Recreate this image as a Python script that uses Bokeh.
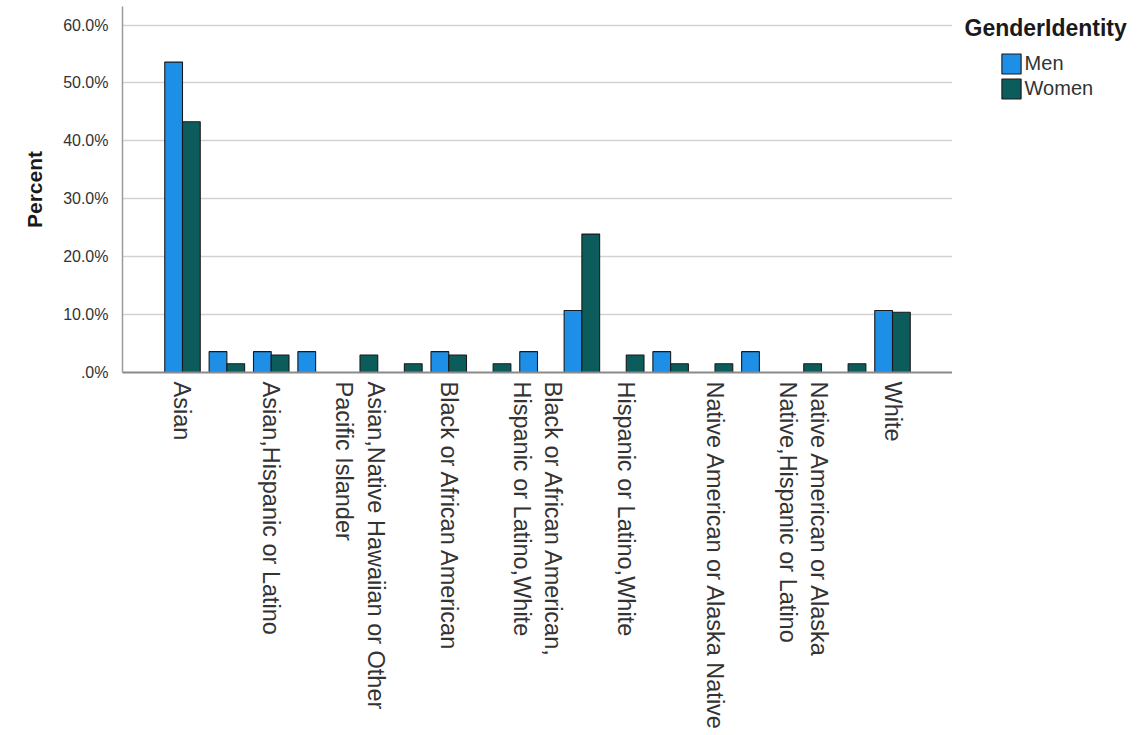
import math
from bokeh.plotting import figure
from bokeh.layouts import row
from bokeh.models import ColumnDataSource, FixedTicker, Legend, LegendItem, Label
from bokeh.transform import dodge
from bokeh.embed import file_html
from bokeh.resources import INLINE

# ---- data ----
tick_labels = [
    "Asian",
    "Asian,Hispanic or Latino",
    "Asian,Native Hawaiian or Other\nPacific Islander",
    "Black or African American",
    "Black or African American,\nHispanic or Latino,White",
    "Hispanic or Latino,White",
    "Native American or Alaska Native",
    "Native American or Alaska\nNative,Hispanic or Latino",
    "White",
]
men_pct = [53.6, 3.6, 3.6, 3.6, 0.0, 0.0, 3.6, 0.0, 3.6, 10.7, 0.0, 3.6, 0.0, 3.6, 0.0, 0.0, 10.7]
women_pct = [43.3, 1.5, 3.0, 0.0, 3.0, 1.5, 3.0, 1.5, 0.0, 23.9, 3.0, 1.5, 1.5, 0.0, 1.5, 1.5, 10.4]
y_ticks = [0, 10, 20, 30, 40, 50, 60]
y_tick_labels = [".0%", "10.0%", "20.0%", "30.0%", "40.0%", "50.0%", "60.0%"]
series_names = ["Men", "Women"]
legend_title = "GenderIdentity"

MEN_COLOR = "#1E8FE6"
WOMEN_COLOR = "#0B5C5A"
OUTLINE = "#1a1a1a"
FONT = "Liberation Sans"
TOTAL_H = 730

n_groups = len(men_pct)
groups = list(range(n_groups))
label_positions = groups[::2]

source = ColumnDataSource(dict(g=groups, men=men_pct, women=women_pct))

FRAME_H = 366
p = figure(
    title=None,
    frame_width=830, frame_height=FRAME_H,
    x_range=(-1.352, n_groups - 1 + 1.352),
    y_range=(0, 63.2),
    output_backend="svg", toolbar_location=None,
    min_border_left=122, min_border_right=0,
    min_border_top=6, min_border_bottom=TOTAL_H - 6 - FRAME_H,
    background_fill_color="white", border_fill_color="white",
)
p.outline_line_color = None

p.vbar(x=dodge("g", -0.2), top="men", width=0.4, source=source,
       fill_color=MEN_COLOR, line_color=OUTLINE, line_width=1.1)
p.vbar(x=dodge("g", 0.2), top="women", width=0.4, source=source,
       fill_color=WOMEN_COLOR, line_color=OUTLINE, line_width=1.1)

# x axis
xa = p.xaxis[0]
xa.ticker = FixedTicker(ticks=label_positions)
xa.major_label_overrides = {pos: lab for pos, lab in zip(label_positions, tick_labels)}
xa.major_label_orientation = -math.pi / 2
xa.major_label_text_font = FONT
xa.major_label_text_font_size = "23.5px"
xa.major_label_text_color = "#333333"
xa.major_label_standoff = 3
xa.major_tick_line_color = None
xa.minor_tick_line_color = None
xa.axis_line_color = "#8a8a8a"
xa.axis_line_width = 2

# y axis
ya = p.yaxis[0]
ya.ticker = FixedTicker(ticks=y_ticks)
ya.major_label_overrides = {t: lab for t, lab in zip(y_ticks, y_tick_labels)}
ya.major_label_text_font = FONT
ya.major_label_text_font_size = "16px"
ya.major_label_text_color = "#333333"
ya.major_label_standoff = 8
ya.major_tick_line_color = None
ya.minor_tick_line_color = None
ya.axis_line_color = "#9a9a9a"
ya.axis_line_width = 1.5
ya.axis_label = "Percent"
ya.axis_label_text_font = FONT
ya.axis_label_text_font_style = "bold"
ya.axis_label_text_font_size = "21px"
ya.axis_label_text_color = "#1a1a1a"
ya.axis_label_standoff = 14

p.xgrid.grid_line_color = None
p.ygrid.ticker = FixedTicker(ticks=y_ticks)
p.ygrid.grid_line_color = "#d2d2d2"
p.ygrid.grid_line_width = 1.5

# ---- legend panel (separate figure to the right) ----
LEG_W = 184
q = figure(
    title=None, frame_width=LEG_W, frame_height=TOTAL_H,
    x_range=(-200, -199), y_range=(1000, 1001),
    output_backend="svg", toolbar_location=None,
    min_border=0, min_border_left=0, min_border_right=0,
    min_border_top=0, min_border_bottom=0,
    background_fill_color="white", border_fill_color="white",
)
q.axis.visible = False
q.grid.visible = False
q.outline_line_color = None

# legend proxies share the same data (kept far outside q's visible ranges)
lm = q.vbar(x=dodge("g", -0.2), top="men", width=0.4, source=source,
            fill_color=MEN_COLOR, line_color=OUTLINE, line_width=1.1)
lw = q.vbar(x=dodge("g", 0.2), top="women", width=0.4, source=source,
            fill_color=WOMEN_COLOR, line_color=OUTLINE, line_width=1.1)

legend = Legend(
    items=[LegendItem(label=series_names[0], renderers=[lm], index=0),
           LegendItem(label=series_names[1], renderers=[lw], index=0)],
    location=(46.6, TOTAL_H - 50.5 - 50),
    glyph_width=24, glyph_height=25, label_height=20,
    label_standoff=2, spacing=0, padding=0, margin=0,
    label_text_font=FONT, label_text_font_size="20px", label_text_color="#333333",
    border_line_color=None, background_fill_alpha=0,
)
q.add_layout(legend)

q.add_layout(Label(x=12, y=TOTAL_H - 21, x_units="screen", y_units="screen",
                   text=legend_title, text_font=FONT, text_font_style="bold",
                   text_font_size="23px", text_color="#1a1a1a",
                   text_baseline="alphabetic"))

layout = row(p, q, spacing=0)
open("out.html", "w").write(file_html(layout, INLINE))
